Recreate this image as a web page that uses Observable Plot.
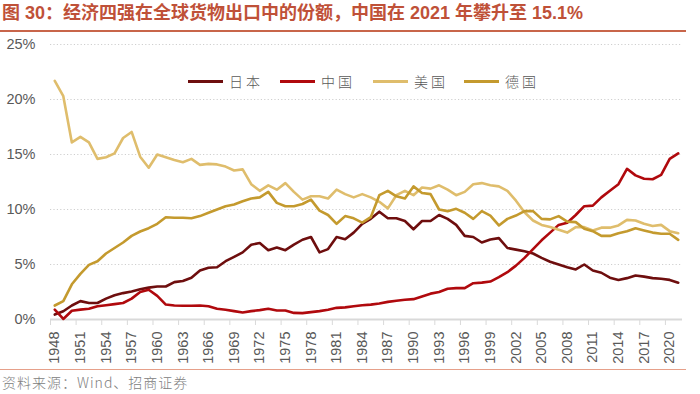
<!DOCTYPE html>
<html>
<head>
<meta charset="utf-8">
<script src="https://cdn.jsdelivr.net/npm/d3@7"></script>
<script src="https://cdn.jsdelivr.net/npm/@observablehq/plot@0.6"></script>
<style>
  html, body { margin: 0; padding: 0; background: #fff; }
  body { width: 700px; height: 394px; overflow: hidden; position: relative;
         font-family: "Liberation Sans", Arial, "Noto Sans CJK SC", sans-serif; }
  #title { position: absolute; left: 0; top: 0; width: 686px; height: 32px;
           border-bottom: 2px solid #c8654a; box-sizing: border-box; }
  #title span { position: absolute; left: 2px; top: 2px; font-size: 18px; font-weight: bold;
                color: #bf5138; white-space: nowrap; line-height: 22px;
                font-family: "Liberation Sans", Arial, "Noto Sans CJK SC", sans-serif; }
  #chart { position: absolute; left: 0; top: 34px; }
  .lg { position: absolute; top: 72px; height: 18px; }
  .lg .sw { position: absolute; top: 8px; width: 35px; height: 3px; }
  .lg .tx { position: absolute; top: 0; left: 41px; font-size: 14px; letter-spacing: 3px;
            color: #595959; white-space: nowrap; line-height: 18px;
            font-family: "Noto Sans CJK SC", sans-serif; font-weight: 300; }
  #foot { position: absolute; left: 0; top: 369px; width: 686px; border-top: 1.5px solid #e6a08a; }
  #foot span { position: absolute; left: 2px; top: 2px; font-size: 14px; color: #808080;
               letter-spacing: 1px; white-space: nowrap; line-height: 20px;
               font-family: "Noto Sans CJK SC", "Liberation Sans", sans-serif; font-weight: 300; }
</style>
</head>
<body>
<div id="title"><span>图 30：经济四强在全球货物出口中的份额，中国在 2021 年攀升至 15.1%</span></div>
<div id="chart"></div>
<div id="legend"></div>
<div id="foot"><span>资料来源：Wind、招商证券</span></div>
<script>
const years = d3.range(1948, 2022);

const japan = [0.45,0.75,1.27,1.67,1.5,1.5,1.9,2.2,2.4,2.55,
  2.75,2.9,3.0,3.0,3.4,3.5,3.8,4.45,4.7,4.75,
  5.3,5.7,6.1,6.8,6.95,6.3,6.55,6.3,6.8,7.25,
  7.5,6.1,6.4,7.5,7.3,7.9,8.7,9.15,9.8,9.2,
  9.2,8.95,8.2,8.95,8.95,9.5,9.15,8.6,7.6,7.5,
  7.0,7.27,7.4,6.5,6.35,6.2,6.0,5.6,5.25,5.0,
  4.75,4.55,5.0,4.45,4.25,3.8,3.6,3.76,4.0,3.9,
  3.76,3.7,3.6,3.35];

const china = [0.9,0.05,0.8,0.9,0.97,1.2,1.3,1.4,1.5,1.9,
  2.5,2.7,2.15,1.36,1.27,1.25,1.25,1.27,1.2,0.97,
  0.88,0.76,0.64,0.76,0.85,0.97,0.82,0.82,0.6,0.58,
  0.67,0.76,0.88,1.06,1.1,1.2,1.3,1.35,1.45,1.6,
  1.7,1.8,1.85,2.1,2.35,2.5,2.8,2.85,2.85,3.3,
  3.35,3.45,3.85,4.3,4.9,5.6,6.4,7.2,7.9,8.6,
  8.8,9.5,10.3,10.35,11.1,11.7,12.3,13.7,13.1,12.8,
  12.75,13.15,14.6,15.1];

const usa = [21.7,20.3,16.1,16.6,16.1,14.6,14.75,15.1,16.5,17.05,
  14.8,13.8,15.0,14.75,14.5,14.3,14.6,14.06,14.15,14.1,
  13.9,13.55,13.65,12.3,11.7,12.2,11.8,12.4,11.6,10.9,
  11.2,11.2,11.0,11.8,11.4,11.1,11.4,11.1,10.7,10.1,
  11.3,11.7,11.3,12.0,11.9,12.2,11.8,11.3,11.6,12.3,
  12.4,12.2,12.1,11.7,10.8,9.75,9.0,8.6,8.4,8.15,
  7.9,8.4,8.4,8.1,8.35,8.35,8.55,9.06,9.0,8.7,
  8.5,8.6,8.03,7.85];

const germany = [1.27,1.67,3.2,4.15,4.97,5.3,6.0,6.5,7.0,7.6,
  8.0,8.3,8.7,9.3,9.25,9.25,9.2,9.4,9.7,10.0,
  10.3,10.45,10.75,11.0,11.1,11.6,10.6,10.3,10.3,10.5,
  10.9,9.9,9.5,8.7,9.4,9.2,8.8,9.3,11.3,11.7,
  11.2,11.0,12.1,11.5,11.4,10.0,9.85,10.06,9.7,9.15,
  9.85,9.45,8.55,9.15,9.45,9.85,9.85,9.15,9.1,9.4,
  8.9,8.85,8.25,8.03,7.6,7.6,7.85,8.03,8.3,8.1,
  7.9,7.8,7.8,7.24];

const seriesNames = ["日本", "中国", "美国", "德国"];
const seriesColors = ["#6e0e0e", "#b0090d", "#dfbd6c", "#c49a2e"];
const labelYears = d3.range(1948, 2022, 3);
const yTicks = [0, 5, 10, 15, 20, 25];

const table = [];
[japan, china, usa, germany].forEach((arr, i) =>
  arr.forEach((v, j) => table.push({year: years[j], value: v, series: seriesNames[i]})));

const chart = Plot.plot({
  width: 700,
  height: 335,
  marginTop: 10,
  marginBottom: 50,
  marginLeft: 50,
  marginRight: 18,
  x: {domain: [1947.5, 2021.5]},
  y: {domain: [0, 25]},
  color: {domain: seriesNames, range: seriesColors},
  style: {fontFamily: "Liberation Sans, Arial, sans-serif", background: "transparent"},
  marks: [
    Plot.ruleY(yTicks.filter(d => d > 0), {stroke: "#cfcfcf", strokeDasharray: "1.2,2.2", strokeWidth: 1}),
    Plot.axisY(yTicks, {tickSize: 0, tickPadding: 15, tickFormat: d => d + "%", fontSize: 14.5, fill: "#595959", label: null}),
    Plot.axisX(labelYears.map(d => d - 0.5), {tickSize: 6, tickFormat: () => "", stroke: "#d9d9d9", label: null}),
    Plot.axisX(labelYears, {tickSize: 0, tickRotate: -90, tickPadding: 12, tickFormat: d => String(d), fontSize: 14.5, fill: "#595959", label: null}),
    Plot.ruleY([0], {stroke: "#d9d9d9", strokeWidth: 2}),
    Plot.line(table, {x: "year", y: "value", z: "series", stroke: "series", strokeWidth: 2.6})
  ]
});
document.getElementById("chart").appendChild(chart);

const legendLeft = [188, 280, 373, 464];
const legend = document.getElementById("legend");
seriesNames.forEach((name, i) => {
  const item = document.createElement("div");
  item.className = "lg";
  item.style.left = legendLeft[i] + "px";
  const sw = document.createElement("div");
  sw.className = "sw";
  sw.style.background = seriesColors[i];
  const tx = document.createElement("div");
  tx.className = "tx";
  tx.textContent = name;
  item.appendChild(sw);
  item.appendChild(tx);
  legend.appendChild(item);
});
</script>
</body>
</html>
